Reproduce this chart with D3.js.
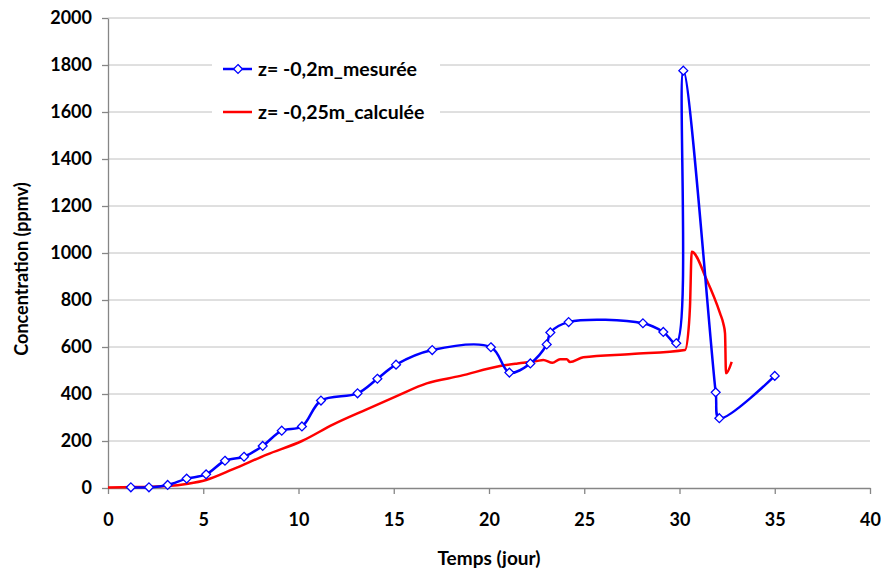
<!DOCTYPE html>
<html>
<head>
<meta charset="utf-8">
<script src="https://cdn.jsdelivr.net/npm/d3@7"></script>
<style>
  body { margin: 0; background: #fff; }
  text { font-family: Lato, "Open Sans", sans-serif; font-weight: bold; fill: #000; }
</style>
</head>
<body>
<svg id="chart"></svg>
<script>
//  measured series (jour, ppmv)
const mesure_x = [1.2, 2.15, 3.13, 4.13, 5.15, 6.14, 7.14, 8.12, 9.12, 10.18, 11.18, 13.1, 14.14, 15.12, 17.02, 20.1, 21.07, 22.17, 23.03, 23.22, 24.18, 28.08, 29.15, 29.83, 30.2, 31.9, 32.09, 35.0];
const mesure_y = [3, 3, 13, 40, 58, 116, 133, 179, 244, 262, 372, 403, 465, 525, 587, 599, 491, 530, 611, 662, 706, 701, 664, 616, 1776, 407, 297, 477];

//  calculated series (jour, ppmv)
const calcul_x = [0, 1.5, 3.08, 4.2, 5.15, 6.57, 8.33, 10.18, 11.83, 13.58, 15.15, 16.73, 18.5, 20.58, 21.5, 22.5, 22.85, 23.33, 23.73, 24.08, 24.25, 24.95, 27.5, 30.29, 30.5, 30.55, 30.64, 31.43, 32.13, 32.3, 32.39, 32.44, 32.74];
const calcul_y = [2, 4, 8, 18, 34, 80, 142, 200, 271, 335, 391, 445, 477, 519, 530, 540, 545, 533, 548, 548, 536, 556, 570, 587, 700, 771, 1005, 885, 743, 700, 658, 488, 537];

const x_ticks = [0, 5, 10, 15, 20, 25, 30, 35, 40];
const y_ticks = [0, 200, 400, 600, 800, 1000, 1200, 1400, 1600, 1800, 2000];

const legend_labels = ["z= -0,2m_mesurée", "z= -0,25m_calculée"];
const legend_colors = ["#0000ff", "#ff0000"];

function draw_chart() {
  const w = 881
  const h = 571
  const margin = ({top: 18, right: 11, bottom: 83, left: 108})

  const svg = d3.select("#chart").attr("width", w).attr("height", h)

  const x = d3.scaleLinear().domain([0, 40]).range([margin.left, w - margin.right])
  const y = d3.scaleLinear().domain([0, 2000]).range([h - margin.bottom, margin.top])

  //  gridlines
  svg.append("g")
     .selectAll("line")
     .data(y_ticks.filter(d => d > 0)).enter()
     .append("line")
     .attr("x1", x(0))
     .attr("x2", x(40))
     .attr("y1", d => y(d))
     .attr("y2", d => y(d))
     .style("stroke", "#c0c0c0")
     .style("stroke-width", 1)

  //  axes
  const xAxis = svg.append("g")
     .attr("transform", "translate(0," + y(0) + ")")
     .call(d3.axisBottom(x).tickValues(x_ticks).tickFormat(d3.format("d")).tickSize(6).tickSizeOuter(0).tickPadding(19))
  const yAxis = svg.append("g")
     .attr("transform", "translate(" + x(0) + ",0)")
     .call(d3.axisLeft(y).tickValues(y_ticks).tickFormat(d3.format("d")).tickSize(6).tickSizeOuter(0).tickPadding(10))

  ;[xAxis, yAxis].forEach(a => {
    a.selectAll("path, line").style("stroke", "#868686").style("stroke-width", 1.3)
    a.selectAll("text").style("font-size", "18px").style("font-family", "Lato, sans-serif").style("font-weight", "bold").attr("fill", "#000")
  })

  //  axis titles
  svg.append("text")
     .attr("x", (x(0) + x(40)) / 2)
     .attr("y", 565)
     .attr("text-anchor", "middle")
     .style("font-size", "19px")
     .text("Temps (jour)")

  svg.append("text")
     .attr("transform", "translate(28,269) rotate(-90)")
     .attr("text-anchor", "middle")
     .style("font-size", "18px")
     .text("Concentration (ppmv)")

  //  calculated line
  const calcul = calcul_x.map((v, i) => [v, calcul_y[i]])
  svg.append("path")
     .datum(calcul)
     .attr("d", d3.line().x(d => x(d[0])).y(d => y(d[1])).curve(d3.curveMonotoneX))
     .style("fill", "none")
     .style("stroke", "#ff0000")
     .style("stroke-width", 2.5)
     .style("stroke-linejoin", "round")

  //  measured line
  const mesure = mesure_x.map((v, i) => [v, mesure_y[i]])
  svg.append("path")
     .datum(mesure)
     .attr("d", d3.line().x(d => x(d[0])).y(d => y(d[1])).curve(d3.curveCatmullRom.alpha(0.5)))
     .style("fill", "none")
     .style("stroke", "#0000ff")
     .style("stroke-width", 2.5)

  const diamond = d3.symbol().type(d3.symbolDiamond2).size(50)
  svg.append("g")
     .selectAll("path")
     .data(mesure).enter()
     .append("path")
     .attr("d", diamond)
     .attr("transform", d => "translate(" + x(d[0]) + "," + y(d[1]) + ")")
     .style("fill", "#fff")
     .style("stroke", "#0000ff")
     .style("stroke-width", 1.3)

  //  legend
  svg.append("rect")
     .attr("x", 212).attr("y", 50).attr("width", 228).attr("height", 78)
     .attr("fill", "#fff")

  legend_labels.forEach((lab, i) => {
    const ly = 69 + i * 43
    svg.append("line")
       .attr("x1", 223).attr("x2", 252)
       .attr("y1", ly).attr("y2", ly)
       .style("stroke", legend_colors[i])
       .style("stroke-width", 2.5)
    if (i == 0) {
      svg.append("path")
         .attr("d", diamond)
         .attr("transform", "translate(238," + ly + ")")
         .style("fill", "#fff")
         .style("stroke", "#0000ff")
         .style("stroke-width", 1.3)
    }
    svg.append("text")
       .attr("x", 258)
       .attr("y", ly + 7)
       .style("font-size", "19.5px")
       .text(lab)
  })
}

draw_chart();
</script>
</body>
</html>
